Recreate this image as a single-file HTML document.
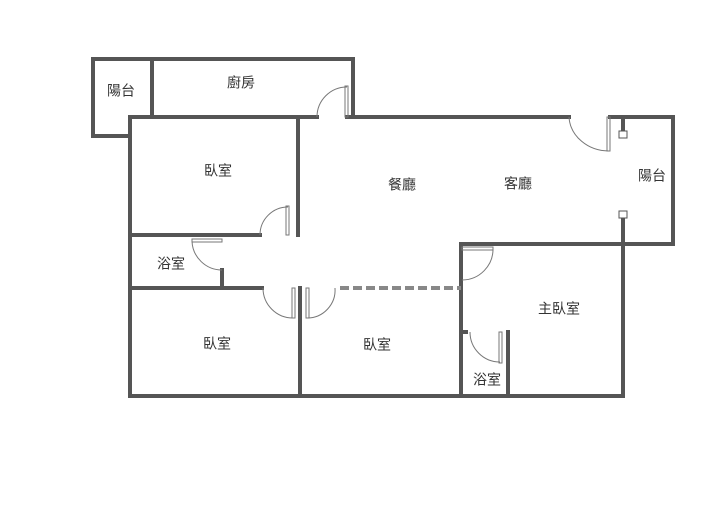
<!DOCTYPE html>
<html><head><meta charset="utf-8"><style>
html,body{margin:0;padding:0;background:#fff;}
svg{display:block;}
text{font-family:"Liberation Sans","Noto Sans CJK TC",sans-serif;font-size:14px;fill:#333;text-anchor:middle;dominant-baseline:middle;}
</style></head><body>
<svg width="717" height="517" viewBox="0 0 717 517" xmlns="http://www.w3.org/2000/svg">
<g stroke="#555" stroke-width="4" fill="none" stroke-linecap="square">
<polyline points="130,136 93,136 93,59 353,59 353,117"/>
<line x1="152" y1="59" x2="152" y2="117"/>
<line x1="130" y1="117" x2="317" y2="117"/>
<line x1="347" y1="117" x2="569" y2="117"/>
<line x1="610" y1="117" x2="673" y2="117"/>
<line x1="673" y1="117" x2="673" y2="244"/>
<line x1="461" y1="244" x2="673" y2="244"/>
<line x1="623" y1="117" x2="623" y2="131"/>
<line x1="623" y1="218" x2="623" y2="396"/>
<line x1="130" y1="117" x2="130" y2="396"/>
<line x1="298" y1="117" x2="298" y2="235"/>
<line x1="130" y1="235" x2="260" y2="235"/>
<line x1="222" y1="270" x2="222" y2="288"/>
<line x1="130" y1="288" x2="262" y2="288"/>
<line x1="300" y1="288" x2="300" y2="396"/>
<line x1="130" y1="396" x2="623" y2="396"/>
<line x1="461" y1="244" x2="461" y2="396"/>
<line x1="508" y1="332" x2="508" y2="396"/>
<line x1="461" y1="332" x2="466" y2="332"/>
</g>
<line x1="340" y1="288" x2="461" y2="288" stroke="#888" stroke-width="4" stroke-dasharray="9,4"/>
<rect x="619" y="131" width="8" height="7" fill="#fff" stroke="#555" stroke-width="1"/>
<rect x="619" y="211" width="8" height="7" fill="#fff" stroke="#555" stroke-width="1"/>
<g stroke="#777" stroke-width="1" fill="none">
<path d="M317,117 A30,30 0 0 1 347,87"/><rect x="345" y="86" width="3" height="31"/>
<path d="M260,235 A28,28 0 0 1 288,207"/><rect x="286" y="206" width="3" height="29"/>
<path d="M192,241 A30,30 0 0 0 222,270"/><rect x="192" y="239" width="30" height="3"/>
<path d="M263,288 A30,30 0 0 0 293,318"/><rect x="292" y="288" width="3" height="30"/>
<path d="M335,288 A28,28 0 0 1 307,318"/><rect x="306" y="288" width="3" height="30"/>
<path d="M569,117 A40,36 0 0 0 609,151"/><rect x="607" y="117" width="3" height="34"/>
<path d="M493,248 A31,31 0 0 1 462,280"/><rect x="462" y="247" width="31" height="3"/>
<path d="M470,332 A30,30 0 0 0 500,362"/><rect x="499" y="332" width="3" height="31"/>
</g>
<text x="121" y="92">陽台</text>
<text x="241" y="84">廚房</text>
<text x="218" y="172">臥室</text>
<text x="171" y="265">浴室</text>
<text x="217" y="345">臥室</text>
<text x="377" y="346">臥室</text>
<text x="402" y="186">餐廳</text>
<text x="518" y="185">客廳</text>
<text x="652" y="177">陽台</text>
<text x="559" y="310">主臥室</text>
<text x="487" y="381">浴室</text>
</svg>
</body></html>
